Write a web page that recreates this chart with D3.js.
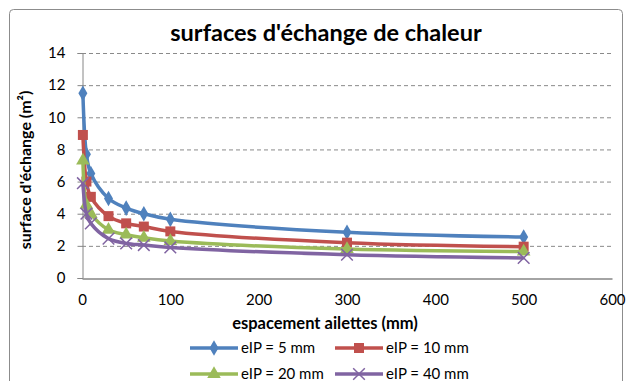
<!DOCTYPE html>
<html>
<head>
<meta charset="utf-8">
<script src="https://cdn.jsdelivr.net/npm/d3@7"></script>
<style>
  body { margin: 0; background: #fff; }
  text { font-family: Lato, "Open Sans", sans-serif; fill: #000; }
</style>
</head>
<body>
<svg width="630" height="381"></svg>
<script>
// espacement ailettes (mm)
var espacement = [1, 5, 10, 30, 50, 70, 100, 300, 500];
var eIP5  = [11.5, 7.7, 6.5, 4.95, 4.35, 4.0, 3.65, 2.85, 2.55];
var eIP10 = [8.9, 6.0, 5.05, 3.85, 3.4, 3.2, 2.9, 2.2, 1.95];
var eIP20 = [7.3, 4.55, 4.0, 3.0, 2.7, 2.5, 2.3, 1.8, 1.65];
var eIP40 = [5.9, 4.0, 3.4, 2.45, 2.15, 2.05, 1.9, 1.45, 1.25];
var noms = ["eIP = 5 mm", "eIP = 10 mm", "eIP = 20 mm", "eIP = 40 mm"];
var xTicks = [0, 100, 200, 300, 400, 500, 600];
var yTicks = [0, 2, 4, 6, 8, 10, 12, 14];

var series = [
  {nom: noms[0], vals: eIP5,  col: "#4F81BD", sym: "diamond"},
  {nom: noms[1], vals: eIP10, col: "#C0504D", sym: "square"},
  {nom: noms[2], vals: eIP20, col: "#9BBB59", sym: "triangle"},
  {nom: noms[3], vals: eIP40, col: "#8064A2", sym: "cross"}
];

var svg = d3.select("svg");

// cadre du graphique
svg.append("rect")
  .attr("x", 9.5).attr("y", 9.5)
  .attr("width", 613).attr("height", 390)
  .attr("rx", 4)
  .attr("fill", "#fff").attr("stroke", "#8c8c8c");

var x = d3.scaleLinear().domain([0, 600]).range([82, 612]);
var y = d3.scaleLinear().domain([0, 14]).range([278, 53]);

// grille
svg.append("g").selectAll("line")
  .data(yTicks.filter(function(d){ return d > 0; }))
  .enter().append("line")
  .attr("x1", x(0)).attr("x2", x(600))
  .attr("y1", function(d){ return y(d) + 0.5; })
  .attr("y2", function(d){ return y(d) + 0.5; })
  .attr("stroke", "#8a8a8a")
  .attr("stroke-dasharray", "4,3");

// axes
var yAxis = d3.axisLeft(y).tickValues(yTicks).tickSize(5).tickPadding(12);
var gy = svg.append("g").attr("transform", "translate(" + (x(0) + 0.5) + ",0)").call(yAxis);
gy.select(".domain").attr("stroke", "#868686");
gy.selectAll(".tick line").attr("stroke", "#868686");
gy.selectAll("text").style("font-size", "15px");

var xAxis = d3.axisBottom(x).tickValues(xTicks).tickSize(0).tickPadding(16);
var gx = svg.append("g").attr("transform", "translate(0," + (y(0) + 0.5) + ")").call(xAxis);
gx.select(".domain").attr("stroke", "#868686").attr("stroke-width", 1.5);
gx.selectAll("text").style("font-size", "15px");

// courbes lissées
var ligne = d3.line()
  .x(function(d){ return x(d[0]); })
  .y(function(d){ return y(d[1]); })
  .curve(d3.curveCatmullRom.alpha(0.5));

var symboles = {
  diamond: d3.symbol().type(d3.symbolDiamond).size(70),
  square: d3.symbol().type(d3.symbolSquare).size(100),
  triangle: d3.symbol().type(d3.symbolTriangle).size(80),
  cross: d3.symbol().type(d3.symbolX).size(90)
};

series.forEach(function(s){
  var pts = espacement.map(function(e, i){ return [e, s.vals[i]]; });
  svg.append("path")
    .datum(pts)
    .attr("d", ligne)
    .attr("fill", "none")
    .attr("stroke", s.col)
    .attr("stroke-width", 3.5);
  svg.append("g").selectAll("path")
    .data(pts)
    .enter().append("path")
    .attr("transform", function(d){ return "translate(" + x(d[0]) + "," + y(d[1]) + ")"; })
    .attr("d", symboles[s.sym])
    .attr("fill", s.sym == "cross" ? "none" : s.col)
    .attr("stroke", s.col)
    .attr("stroke-width", s.sym == "cross" ? 1.5 : 0);
});

// titres
svg.append("text")
  .attr("x", 326).attr("y", 41)
  .attr("text-anchor", "middle")
  .style("font-size", "23.5px").style("font-weight", "bold")
  .text("surfaces d'échange de chaleur");

svg.append("text")
  .attr("x", 325).attr("y", 329)
  .attr("text-anchor", "middle")
  .style("font-size", "16.5px").style("font-weight", "bold")
  .text("espacement ailettes (mm)");

svg.append("text")
  .attr("transform", "translate(31,170) rotate(-90)")
  .attr("text-anchor", "middle")
  .style("font-size", "16px").style("font-weight", "bold")
  .text("surface d'échange  (m²)");

// légende
var leg = svg.append("g");
series.forEach(function(s, i){
  var lx = i % 2 == 0 ? 190 : 335;
  var ly = i < 2 ? 348 : 374;
  leg.append("line")
    .attr("x1", lx).attr("x2", lx + 48)
    .attr("y1", ly).attr("y2", ly)
    .attr("stroke", s.col).attr("stroke-width", 3.5);
  leg.append("path")
    .attr("transform", "translate(" + (lx + 24) + "," + ly + ")")
    .attr("d", symboles[s.sym])
    .attr("fill", s.sym == "cross" ? "none" : s.col)
    .attr("stroke", s.col)
    .attr("stroke-width", s.sym == "cross" ? 1.5 : 0);
  leg.append("text")
    .attr("x", lx + 51).attr("y", ly + 5)
    .style("font-size", "15px")
    .text(s.nom);
});
</script>
</body>
</html>
